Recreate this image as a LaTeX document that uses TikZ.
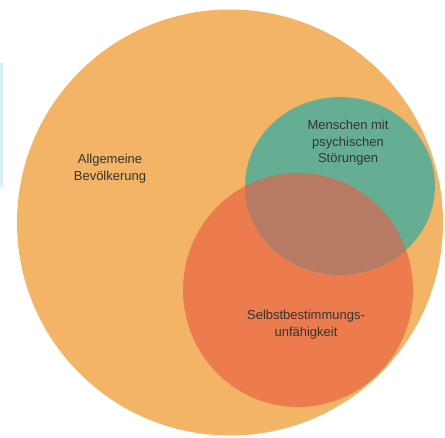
\documentclass[tikz,border=0pt]{standalone}
\usepackage{fontspec}
\setmainfont{Liberation Sans}
\usetikzlibrary{positioning}

\definecolor{setOrange}{HTML}{F3B465}
\definecolor{setTeal}{HTML}{66AE93}
\definecolor{setRed}{HTML}{EC7B4E}
\definecolor{setBoth}{HTML}{B67B62}
\definecolor{edgeBlue}{HTML}{D6EEF5}

\begin{document}
\begin{tikzpicture}[x=1pt, y=-1pt,
    setlabel/.style={align=center, inner sep=0pt,
        font=\fontsize{13}{16.5}\selectfont, text=black!80}]

\useasboundingbox (0,0) rectangle (445,438);

% Sets
\fill[edgeBlue] (0,63) rectangle (3,187);
\fill[setOrange] (230,222.5) circle [radius=213];
\fill[setRed] (298,290) ellipse [x radius=115, y radius=117];
\fill[setTeal] (340,186) ellipse [x radius=95, y radius=89];
\begin{scope}
    \clip (340,186) ellipse [x radius=95, y radius=89];
    \fill[setBoth] (298,290) ellipse [x radius=115, y radius=117];
\end{scope}

% Labels
\node[  setlabel
    ] (bevoelkerung) at (110,168.6) {Allgemeine\\Bevölkerung};
\node[  setlabel
    ] (stoerungen) at (348,143) {Menschen mit\\psychischen\\Störungen};
\node[  setlabel
    ] (unfaehigkeit) at (306,324.6) {Selbstbestimmungs-\\unfähigkeit};

\end{tikzpicture}
\end{document}
